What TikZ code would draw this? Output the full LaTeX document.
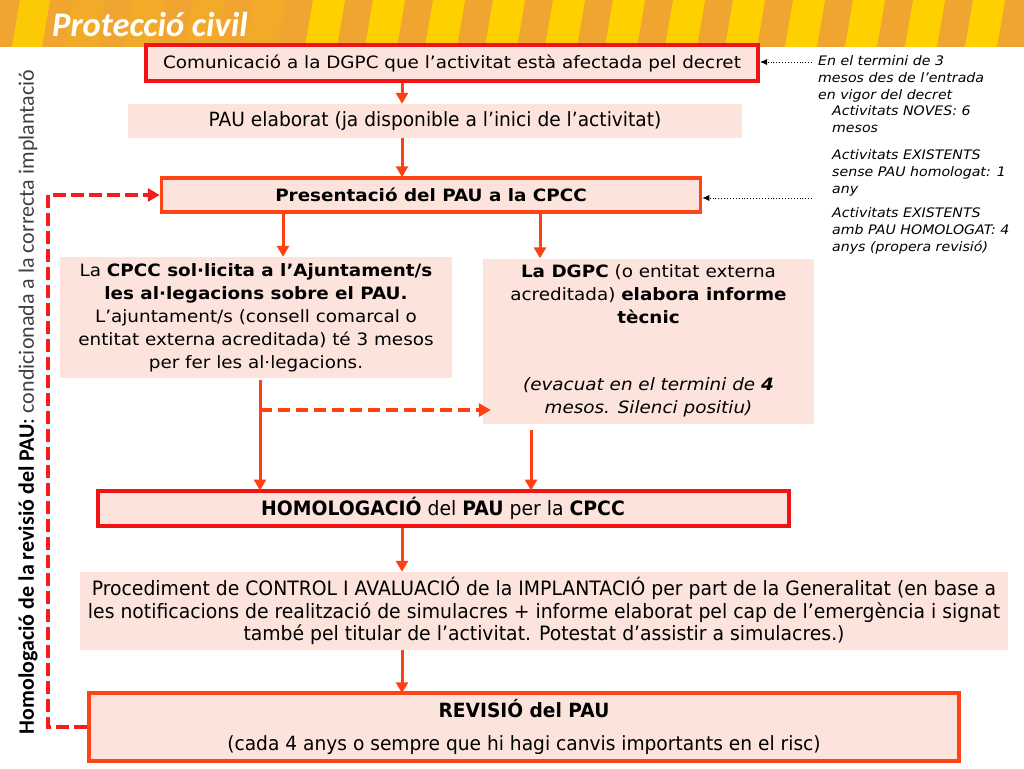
\documentclass[tikz,border=0pt]{standalone}
\usepackage{fontspec}
\setmainfont{DejaVu Sans}[FakeStretch=1.08]
\newfontfamily\tah[FakeStretch=0.95]{DejaVu Sans}
\newfontfamily\calib{Carlito}
\usetikzlibrary{arrows.meta}
\definecolor{bandorange}{HTML}{F0A530}
\definecolor{bandyellow}{HTML}{FFD000}
\definecolor{boxfill}{HTML}{FCE4DC}
\definecolor{redline}{HTML}{F01414}
\definecolor{orline}{HTML}{FF4517}
\definecolor{arrcol}{HTML}{FF4012}
\definecolor{fbred}{HTML}{F41C1C}
\begin{document}
\begin{tikzpicture}[x=1pt,y=-1pt,
  box/.style={fill=boxfill, inner sep=0pt, align=center},
  redframe/.style={box, draw=redline, line width=4pt},
  orframe/.style={box, draw=orline, line width=3.5pt},
  flow/.style={draw=arrcol, line width=3pt, -{Triangle[length=11pt,width=12pt]}},
  dashflow/.style={draw=arrcol, line width=3.5pt, dash pattern=on 12pt off 6pt, -{Triangle[length=12pt,width=13pt]}},
  feedback/.style={draw=fbred, line width=4pt, dash pattern=on 13pt off 5pt, -{Triangle[length=12pt,width=13pt]}},
  note/.style={font=\itshape\fontsize{13.1}{17}\selectfont, align=left, anchor=north west, inner sep=0pt},
  dotarrow/.style={draw=black, line width=0.9pt, dotted, -{Latex[length=7pt,width=6pt]}}
]
\useasboundingbox (0,0) rectangle (1024,768);
% header band
\fill[bandorange] (0,0) rectangle (1024,47);
\foreach \k in {0,...,12}{
  \fill[bandyellow] (305+60*\k,47) -- (337+60*\k,47) -- (345+60*\k,0) -- (313+60*\k,0) -- cycle;
}
\foreach \k in {-4,...,-1}{
  \fill[bandyellow, opacity=0.15] (305+60*\k,47) -- (337+60*\k,47) -- (345+60*\k,0) -- (313+60*\k,0) -- cycle;
}
\fill[bandyellow, opacity=0.85] (12,47) -- (42,47) -- (50,0) -- (20,0) -- cycle;
\node[anchor=base west, text=white, inner sep=0pt, font=\calib\bfseries\itshape\fontsize{34.5}{34.5}\selectfont] (title) at (52,37) {Protecció civil};

% boxes
\node[redframe, minimum width=612pt, minimum height=36pt, font=\fontsize{17}{20}\selectfont] (b1) at (452,63) {Comunicació a la DGPC que l’activitat està afectada pel decret};
\node[box, minimum width=614pt, minimum height=34pt, font=\tah\fontsize{19.6}{22}\selectfont] (b2) at (435,121) {PAU elaborat (ja disponible a l’inici de l’activitat)};
\node[orframe, minimum width=539pt, minimum height=34pt, font=\bfseries\fontsize{17}{20}\selectfont] (b3) at (431,195) {Presentació del PAU a la CPCC};
\node[box, minimum width=392pt, minimum height=121pt, font=\fontsize{17}{23}\selectfont] (b4) at (256,317.5) {La \textbf{CPCC sol·licita a l’Ajuntament/s}\\ \textbf{les al·legacions sobre el PAU.}\\ L’ajuntament/s (consell comarcal o\\ entitat externa acreditada) té 3 mesos\\ per fer les al·legacions.};
\node[box, minimum width=331pt, minimum height=165pt, font=\fontsize{17}{23}\selectfont] (b5) at (648.5,341) {\textbf{La DGPC} (o entitat externa\\ acreditada) \textbf{elabora informe}\\ \textbf{tècnic}\\[44pt] \textit{(evacuat en el termini de \textbf{4}}\\ \textit{mesos. Silenci positiu)}};
\node[redframe, minimum width=691pt, minimum height=35pt, font=\tah\fontsize{19.8}{22}\selectfont] (b6) at (443,508) {\textbf{HOMOLOGACIÓ} del \textbf{PAU} per la \textbf{CPCC}};
\node[box, minimum width=928pt, minimum height=78pt, font=\tah\fontsize{19.8}{22.5}\selectfont] (b7) at (544,611) {Procediment de CONTROL I AVALUACIÓ de la IMPLANTACIÓ per part de la Generalitat (en base a\\ les notificacions de realització de simulacres + informe elaborat pel cap de l’emergència i signat\\ també pel titular de l’activitat. Potestat d’assistir a simulacres.)};
\node[orframe, minimum width=870pt, minimum height=68pt, font=\tah\fontsize{19.6}{33}\selectfont] (b8) at (524,727) {\textbf{REVISIÓ del PAU}\\ (cada 4 anys o sempre que hi hagi canvis importants en el risc)};

% vertical label
\node[rotate=90, inner sep=0pt, font=\calib\fontsize{22}{24}\selectfont] (vt) at (28,402) {\textbf{Homologació de la revisió del PAU}: \textcolor{black!75}{condicionada a la correcta implantació}};

% notes
\node[note] (n1) at (818,55) {En el termini de 3\\ mesos des de l’entrada\\ en vigor del decret};
\node[note] (n2) at (832,105) {Activitats NOVES: 6\\ mesos};
\node[note] (n3) at (832,149) {Activitats EXISTENTS\\ sense PAU homologat: 1\\ any};
\node[note] (n4) at (832,207) {Activitats EXISTENTS\\ amb PAU HOMOLOGAT: 4\\ anys (propera revisió)};
\coordinate (d1) at (812,62);
\coordinate (d3) at (812,198);
\draw[dotarrow] (d1) -- (d1 -| b1.east);
\draw[dotarrow] (d3) -- (d3 -| b3.east);

% connectors
\coordinate (xa) at (402,0);
\coordinate (xl) at (283,0);
\coordinate (xr) at (540,0);
\coordinate (xb) at (260,0);
\coordinate (xc) at (531,0);
\draw[flow] (b1.south -| xa) -- (b2.north -| xa);
\draw[flow] (b2.south -| xa) -- ([yshift=-1pt]b3.north -| xa);
\draw[flow] (b3.south -| xl) -- (b4.north -| xl);
\draw[flow] (b3.south -| xr) -- (b5.north -| xr);
\draw[flow, shorten <=2pt] (b4.south -| xb) -- ([yshift=-2pt]b6.north -| xb);
\draw[flow, shorten <=6pt] (b5.south -| xc) -- ([yshift=-2pt]b6.north -| xc);
\coordinate (br) at (260,410);
\draw[dashflow] (br) -- ([xshift=8pt]br -| b5.west);
\draw[flow] (b6.south -| xa) -- (b7.north -| xa);
\draw[flow] (b7.south -| xa) -- ([yshift=-2pt]b8.north -| xa);
\coordinate (fb) at (48,0);
\draw[feedback] (b8.west) -- (b8.west -| fb) -- (b3.west -| fb) -- (b3.west);
\end{tikzpicture}
\end{document}
